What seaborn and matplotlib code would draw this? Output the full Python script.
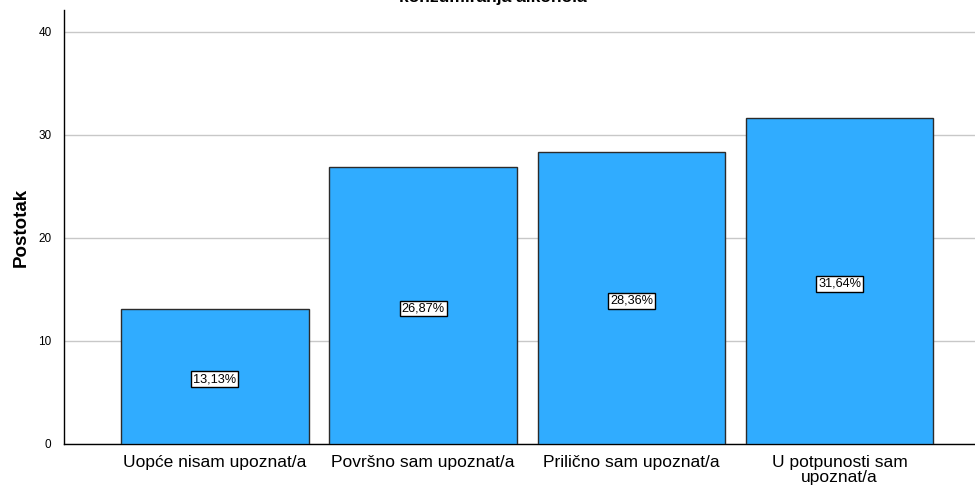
import matplotlib
matplotlib.use("Agg")
import matplotlib.pyplot as plt
import seaborn as sns
import pandas as pd

categories = ["Uopće nisam upoznat/a", "Površno sam upoznat/a",
              "Prilično sam upoznat/a", "U potpunosti sam\nupoznat/a"]
percent = [13.13, 26.87, 28.36, 31.64]
yticks = [0, 10, 20, 30, 40]
title = "konzumiranja alkohola"

df = pd.DataFrame({"kategorija": categories, "postotak": percent})

sns.set_style("white")
plt.rcParams["font.family"] = ["Liberation Sans", "DejaVu Sans"]
plt.rcParams["text.color"] = "black"
plt.rcParams["axes.labelcolor"] = "black"
plt.rcParams["xtick.color"] = "black"
plt.rcParams["ytick.color"] = "black"

fig = plt.figure(figsize=(9.75, 4.92), dpi=100)
ax = fig.add_axes([0.0656, 0.0976, 0.9344, 0.8821])

sns.barplot(data=df, x="kategorija", y="postotak", color="#30acff",
            saturation=1, width=0.9, edgecolor="#2b2b2b", linewidth=1,
            ax=ax, zorder=3)

# labels sit a touch below the bar's middle, like in SPSS output
for i, v in enumerate(percent):
    ax.text(i, v / 2 - 0.3, f"{v:.2f}%".replace(".", ","), ha="center",
            va="center", fontsize=9.2, zorder=5,
            bbox=dict(boxstyle="square,pad=0.15", fc="white", ec="black", lw=1))

ax.set_xlim(-0.725, 3.65)
ax.set_ylim(0, 42.1)
ax.set_yticks(yticks)
ax.yaxis.grid(True, color="#c8c8c8", lw=1, zorder=0)
ax.set_axisbelow(True)
ax.tick_params(axis="y", labelsize=8.5, length=0, pad=9)
ax.tick_params(axis="x", labelsize=12.5, length=0, pad=8)
for lbl in ax.get_xticklabels():
    lbl.set_linespacing(1.0)
ax.set_xlabel("")
ax.set_ylabel("Postotak", fontsize=13.5, fontweight="bold", labelpad=6)

for s in ["top", "right"]:
    ax.spines[s].set_visible(False)
for s in ["left", "bottom"]:
    ax.spines[s].set_color("black")
    ax.spines[s].set_linewidth(1)

fig.text(0.505, 0.995, title, ha="center", va="baseline",
         fontsize=12.5, fontweight="bold")

fig.savefig("out.png", dpi=100)
